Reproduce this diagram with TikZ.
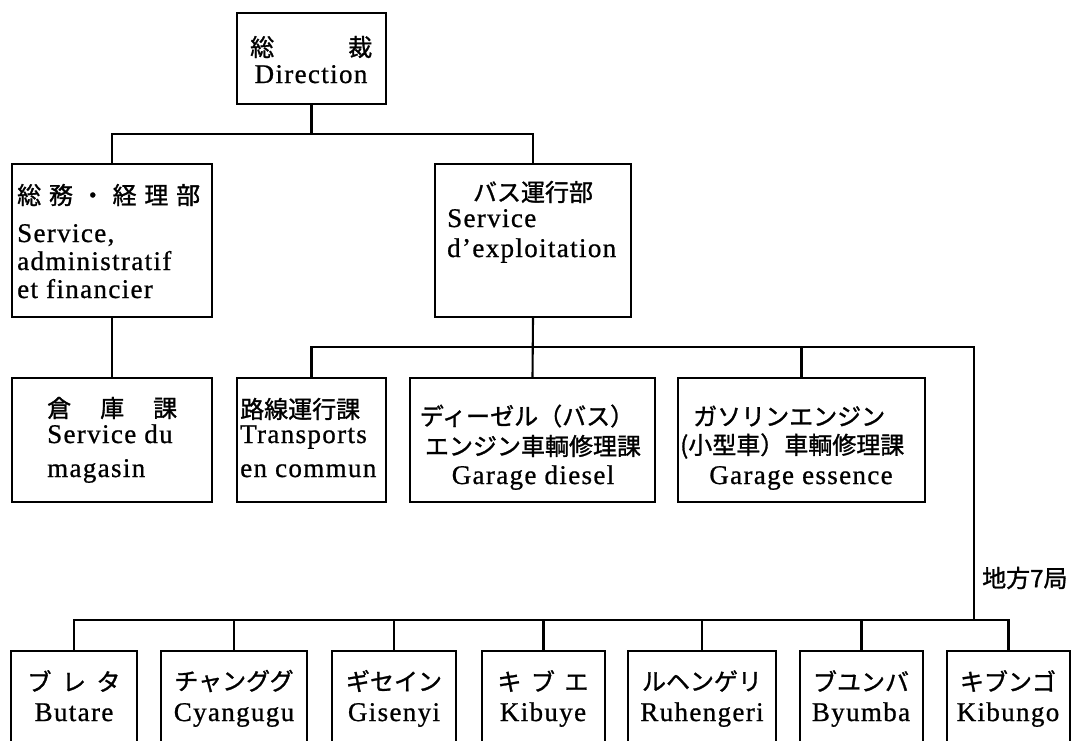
\documentclass[tikz,border=0pt]{standalone}
\usepackage{fontspec}
\setmainfont{Liberation Serif}[LetterSpace=5,FakeBold=0.8]
\newfontfamily\jp{Noto Sans CJK JP}[FakeBold=1.2]
\usetikzlibrary{fit}
\begin{document}
\begin{tikzpicture}[x=1pt,y=-1pt,
  box/.style={draw, line width=2.1pt, inner sep=0pt},
  ln/.style={line width=2.1pt, line cap=rect},
  jpt/.style={font=\jp\fontsize{24}{28}\selectfont, inner sep=0pt},
  lat/.style={font=\fontsize{27}{30}\selectfont, inner sep=0pt}]
\useasboundingbox (0,0) rectangle (1083,740);
\fill[white] (0,0) rectangle (1083,740);
\clip (0,0) rectangle (1083,740);
% boxes
\node[box, fit={(237,13) (386,104)}] (dir) {};
\node[box, fit={(12,164) (212,317)}] (adm) {};
\node[box, fit={(435,164) (631,317)}] (bus) {};
\node[box, fit={(12,378) (212,502)}] (mag) {};
\node[box, fit={(237,378) (386,502)}] (tra) {};
\node[box, fit={(410,378) (655,502)}] (die) {};
\node[box, fit={(678,378) (925,502)}] (gas) {};
\node[box, fit={(11,651) (137,790)}] (b1) {};
\node[box, fit={(161,651) (307,790)}] (b2) {};
\node[box, fit={(332,651) (456,790)}] (b3) {};
\node[box, fit={(482,651) (605,790)}] (b4) {};
\node[box, fit={(628,651) (776,790)}] (b5) {};
\node[box, fit={(800,651) (923,790)}] (b6) {};
\node[box, fit={(947,651) (1070,790)}] (b7) {};
% texts
\node[jpt, anchor=west] (tdir1) at (250,47) {\makebox[122pt]{総\hfill 裁}};
\node[lat, anchor=base] (tdir2) at (311,83) {Direction};
\node[jpt, anchor=west] (tadm1) at (17,195) {\makebox[183pt]{総\hfill 務\hfill ・\hfill 経\hfill 理\hfill 部}};
\node[lat, anchor=base west] (tadm2) at (17,242) {Service,};
\node[lat, anchor=base west] (tadm3) at (17,270) {administratif};
\node[lat, anchor=base west] (tadm4) at (17,298) {et financier};
\node[jpt] (tbus1) at (533,192) {バス運行部};
\node[lat, anchor=base west] (tbus2) at (447,227) {Service};
\node[lat, anchor=base west] (tbus3) at (447,257) {d'exploitation};
\node[jpt, anchor=west] (tmag1) at (47,408) {\makebox[130pt]{倉\hfill 庫\hfill 課}};
\node[lat, anchor=base west] (tmag2) at (47,443) {Service du};
\node[lat, anchor=base west] (tmag3) at (47,477) {magasin};
\node[jpt, anchor=west] (ttra1) at (240,409) {路線運行課};
\node[lat, anchor=base west] (ttra2) at (240,443) {Transports};
\node[lat, anchor=base west] (ttra3) at (240,477) {en commun};
\node[jpt] (tdie1) at (527,416) {ディーゼル（バス）};
\node[jpt] (tdie2) at (533,446) {エンジン車輌修理課};
\node[lat, anchor=base] (tdie3) at (533,484) {Garage diesel};
\node[jpt, anchor=west] (tgas1) at (693,416) {ガソリンエンジン};
\node[jpt, anchor=west] (tgas2) at (680,446) {(小型車）車輌修理課};
\node[lat, anchor=base] (tgas3) at (801,484) {Garage essence};
\node[jpt, anchor=west] (tloc) at (982,578) {地方7局};
\node[jpt] (tb1a) at (74,681) {\makebox[93pt]{ブ\hfill レ\hfill タ}};
\node[lat, anchor=base] (tb1b) at (74,721) {Butare};
\node[jpt] (tb2a) at (234,681) {チャンググ};
\node[lat, anchor=base] (tb2b) at (234,721) {Cyangugu};
\node[jpt] (tb3a) at (394,681) {ギセイン};
\node[lat, anchor=base] (tb3b) at (394,721) {Gisenyi};
\node[jpt] (tb4a) at (543,681) {\makebox[91pt]{キ\hfill ブ\hfill エ}};
\node[lat, anchor=base] (tb4b) at (543,721) {Kibuye};
\node[jpt] (tb5a) at (702,681) {ルヘンゲリ};
\node[lat, anchor=base] (tb5b) at (702,721) {Ruhengeri};
\node[jpt] (tb6a) at (861,681) {ブユンバ};
\node[lat, anchor=base] (tb6b) at (861,721) {Byumba};
\node[jpt] (tb7a) at (1008,681) {キブンゴ};
\node[lat, anchor=base] (tb7b) at (1008,721) {Kibungo};
% connectors
\coordinate (j1) at (313,134);
\coordinate (j2) at (974,347);
\coordinate (j3) at (974,620);
\draw[ln] (dir.south) -- (dir.south |- j1);
\draw[ln] (adm.north) -- (adm.north |- j1) -- (bus.north |- j1) -- (bus.north);
\draw[ln] (adm.south) -- (mag.north);
\draw[ln] (bus.south) -- (die.north);
\draw[ln] (tra.north) -- (tra.north |- j2) -- (j2) -- (j3);
\draw[ln] (gas.north) -- (gas.north |- j2);
\draw[ln] (b1.north) -- (b1.north |- j3) -- (b7.north |- j3) -- (b7.north);
\foreach \b in {b2,b3,b4,b5,b6} \draw[ln] (\b.north) -- (\b.north |- j3);
\end{tikzpicture}
\end{document}
